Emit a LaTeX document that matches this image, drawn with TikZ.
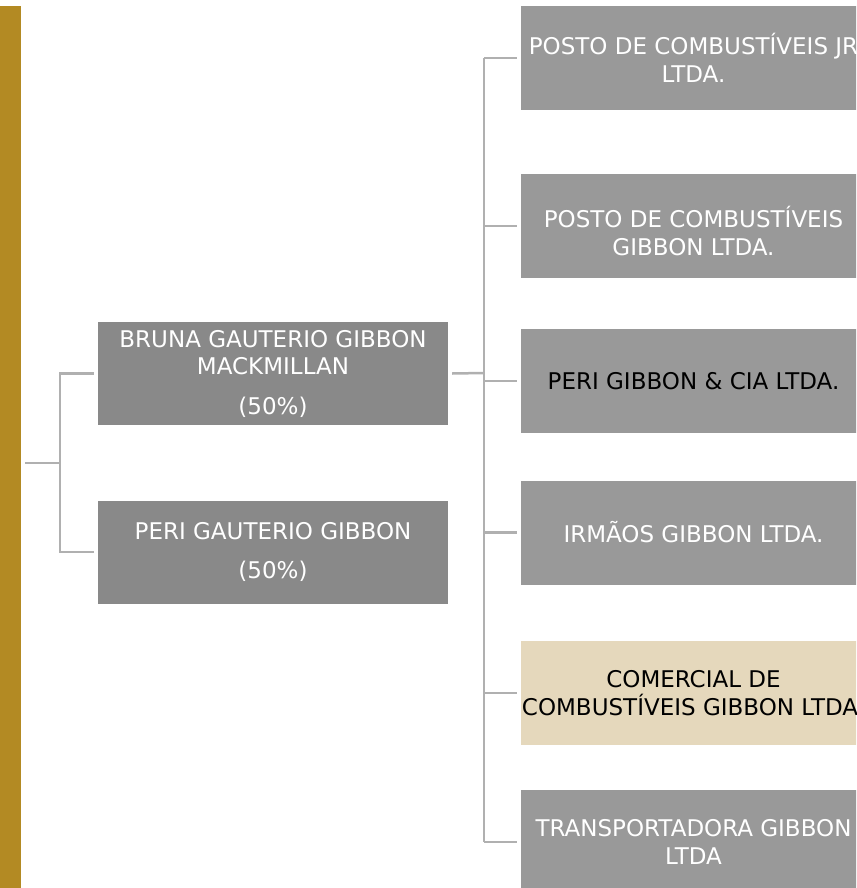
\documentclass[tikz,border=0pt]{standalone}
\usepackage{fontspec}
\setmainfont{DejaVu Sans}
\usepackage{tikz}
\usepackage{xcolor}
\definecolor{ouro}{HTML}{B38A23}
\definecolor{cinzaesc}{HTML}{898989}
\definecolor{cinza}{HTML}{999999}
\definecolor{bege}{HTML}{E5D8BC}
\definecolor{linha}{HTML}{B0B0B0}
\tikzset{
  caixa/.style={rectangle, inner sep=0pt, align=center, text=white,
    font=\fontsize{23}{27.5}\selectfont},
  socio/.style={caixa, fill=cinzaesc, minimum width=350pt, minimum height=103pt},
  empresa/.style={caixa, fill=cinza, minimum width=345pt, minimum height=104pt},
  liga/.style={draw=linha, line width=2.5pt}
}

\begin{document}
\begin{tikzpicture}[x=1pt,y=-1pt]
 \useasboundingbox (0,0) rectangle (856,888);
 \clip (0,0) rectangle (856,888);
 \fill[ouro] (0,6) rectangle (21,888);

 \node[socio] (bruna) at (273,373.5) {BRUNA GAUTERIO GIBBON\\MACKMILLAN\\[12pt](50\%)};
 \node[socio] (peri) at (273,552) {PERI GAUTERIO GIBBON\\[12pt](50\%)};

 \node[empresa] (jr) at (693.5,58) {POSTO DE COMBUSTÍVEIS JR\\LTDA.};
 \node[empresa] (posto) at (693.5,226) {\raisebox{-9pt}[\height][\depth]{\begin{tabular}{@{}c@{}}POSTO DE COMBUSTÍVEIS\\GIBBON LTDA.\end{tabular}}};
 \node[empresa, text=black] (cia) at (693.5,381) {PERI GIBBON \& CIA LTDA.};
 \node[empresa] (irmaos) at (693.5,532.5) {IRMÃOS GIBBON LTDA.};
 \node[empresa, fill=bege, text=black] (comercial) at (693.5,693) {COMERCIAL DE\\COMBUSTÍVEIS GIBBON LTDA.};
 \node[empresa] (transp) at (693.5,842) {TRANSPORTADORA GIBBON\\LTDA};

 % ligacoes da esquerda
 \coordinate (raiz) at (25,463);
 \coordinate (ramo) at (60,463);
 \draw[liga] (raiz) -- (ramo);
 \draw[liga] ([xshift=-4pt]bruna.west) -| (ramo) |- ([xshift=-4pt]peri.west);

 % ligacoes da direita
 \coordinate (tronco) at (484,373);
 \draw[liga] ([xshift=4pt]bruna.east) -- (tronco);
 \draw[liga] (tronco |- jr.west) -- (tronco |- transp.west);
 \foreach \e in {jr,posto,cia,irmaos,comercial,transp}
   \draw[liga] (tronco |- \e.west) -- ([xshift=-4pt]\e.west);
\end{tikzpicture}
\end{document}
